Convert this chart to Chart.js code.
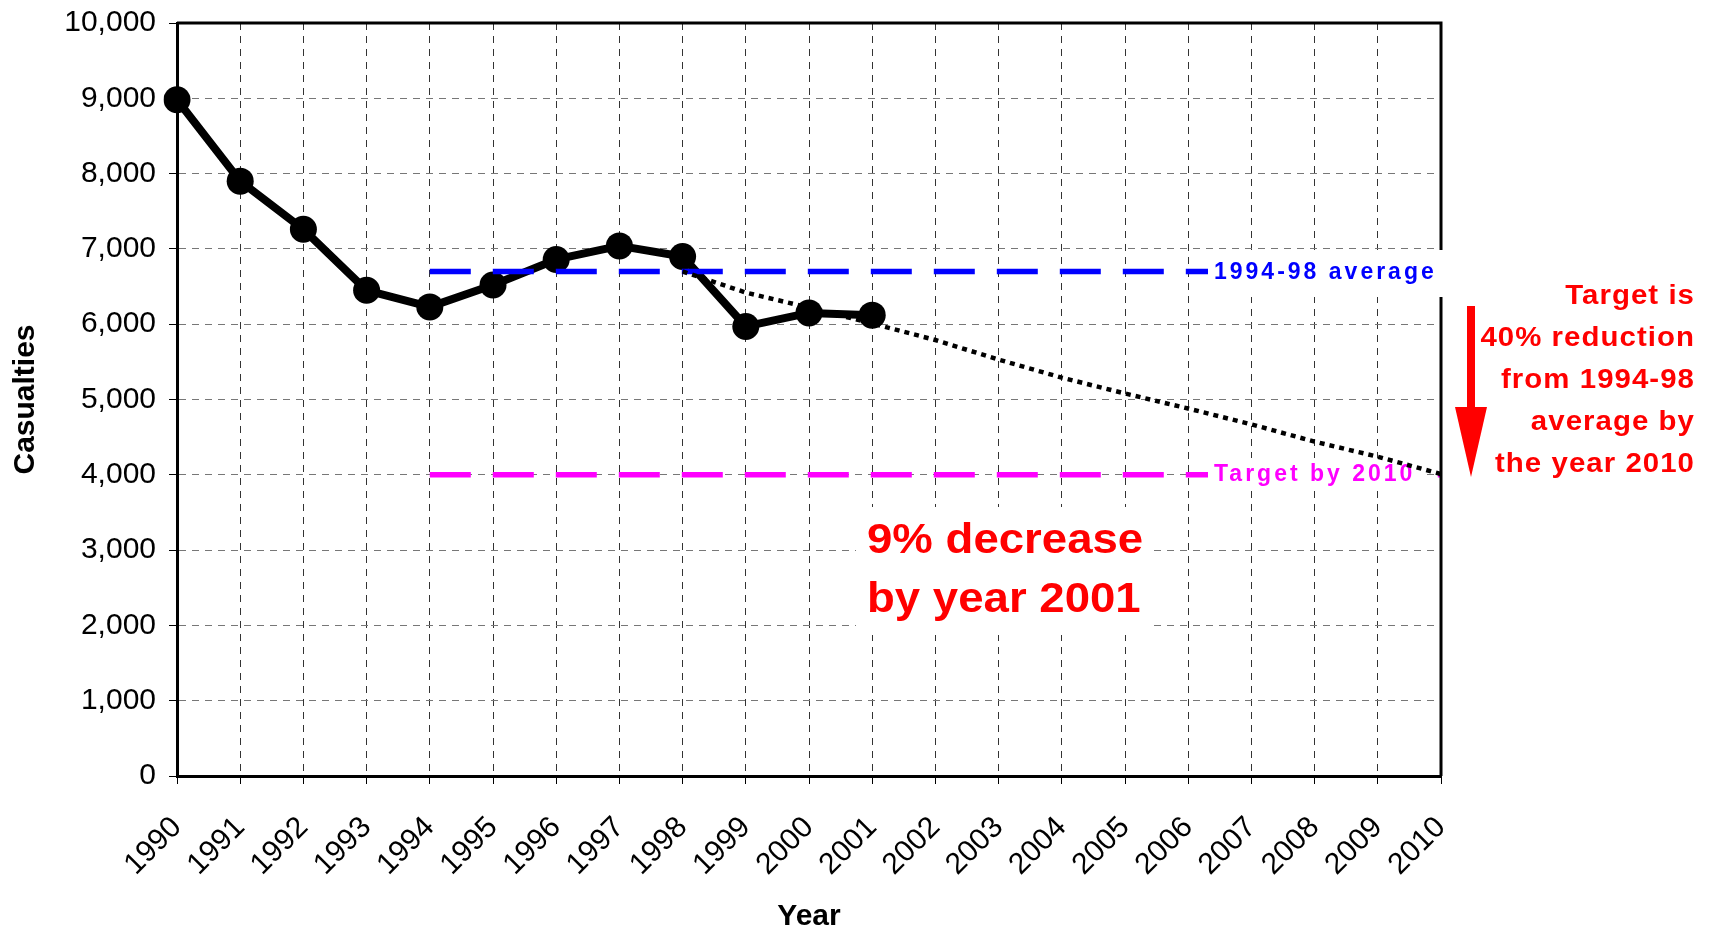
<!DOCTYPE html>
<html>
<head>
<meta charset="utf-8">
<script src="https://cdn.jsdelivr.net/npm/chart.js@4.4.1/dist/chart.umd.min.js"></script>
<style>
  html, body { margin: 0; padding: 0; background: #fff; }
  #wrap { width: 1710px; height: 928px; }
</style>
</head>
<body>
<div id="wrap"><canvas id="chart" width="1710" height="928"></canvas></div>
<script>
// values
const years = ['1990', '1991', '1992', '1993', '1994', '1995', '1996', '1997', '1998', '1999',
	'2000', '2001', '2002', '2003', '2004', '2005', '2006', '2007', '2008', '2009', '2010'];
const casualties = [8980, 7900, 7260, 6450, 6230, 6520, 6860, 7040, 6900, 5970, 6150, 6120];
const avgYears = ['1994', '2010'];
const avgValue = 6700;
const targetYears = ['1994', '2010'];
const targetValue = 4000;
const trendYears = ['1998', '1999', '2000', '2001', '2002', '2003', '2004', '2005', '2006', '2007', '2008', '2009', '2010'];
const trendValues = [6700, 6420, 6220, 6010, 5790, 5530, 5290, 5080, 4880, 4670, 4440, 4240, 4010];
const yTicks = [0, 1000, 2000, 3000, 4000, 5000, 6000, 7000, 8000, 9000, 10000];

const FONT = '"Liberation Sans", Arial, sans-serif';

(function () {
	const toPoints = (xs, ys) => xs.map((x, i) => ({ x: x, y: ys[i] }));
	const spanPoints = (range, v) => {
		const a = years.indexOf(range[0]), b = years.indexOf(range[1]);
		return years.slice(a, b + 1).map(y => ({ x: y, y: v }));
	};

	// text in the original is a little wider than Arial, so allow a horizontal stretch
	const drawText = (ctx, txt, x, y, opts) => {
		ctx.save();
		ctx.translate(x, y);
		ctx.scale(opts.sx || 1, 1);
		ctx.font = opts.font;
		ctx.fillStyle = opts.color;
		ctx.textAlign = opts.align || 'left';
		ctx.textBaseline = 'alphabetic';
		ctx.letterSpacing = (opts.spacing || 0) + 'px';
		ctx.fillText(txt, 0, 0);
		ctx.restore();
	};
	const whiteBox = (ctx, x, y, w, h) => {
		ctx.save();
		ctx.fillStyle = '#fff';
		ctx.fillRect(x, y, w, h);
		ctx.restore();
	};

	const annot = {
		id: 'annot',
		afterDatasetDraw(chart, args) {
			// target label sits on a white box, under the dotted trend
			if (args.index !== 2) {return;}
			const ctx = chart.ctx;
			whiteBox(ctx, 1208, 458, 217, 32);
			drawText(ctx, 'Target by 2010', 1214, 481, { font: 'bold 23px ' + FONT, color: '#ff00ff', spacing: 3 });
		},
		afterDraw(chart) {
			const ctx = chart.ctx;
			const a = chart.chartArea;
			ctx.save();
			ctx.strokeStyle = '#000';
			ctx.lineWidth = 3;
			ctx.beginPath();
			ctx.moveTo(a.left, a.top);
			ctx.lineTo(a.right, a.top);
			ctx.lineTo(a.right, a.bottom);
			ctx.stroke();
			ctx.restore();

			// average label box covers the line end and the right axis
			whiteBox(ctx, 1208, 250, 238, 47);
			drawText(ctx, '1994-98 average', 1214, 279, { font: 'bold 23px ' + FONT, color: '#0000ff', spacing: 3 });

			whiteBox(ctx, 856, 507, 296, 128);
			drawText(ctx, '9% decrease', 867, 553, { font: 'bold 43px ' + FONT, color: '#ff0000', sx: 1.06 });
			drawText(ctx, 'by year 2001', 867, 612, { font: 'bold 43px ' + FONT, color: '#ff0000', sx: 1.06 });

			const lines = ['Target is', '40% reduction', 'from 1994-98', 'average by', 'the year 2010'];
			lines.forEach((l, i) => {
				drawText(ctx, l, 1695, 304 + i * 42, { font: 'bold 28px ' + FONT, color: '#ff0000', align: 'right', spacing: 1, sx: 1.05 });
			});

			// red arrow
			ctx.save();
			ctx.fillStyle = '#ff0000';
			ctx.fillRect(1467, 306, 8, 104);
			ctx.beginPath();
			ctx.moveTo(1455, 407);
			ctx.lineTo(1487, 407);
			ctx.lineTo(1471, 477);
			ctx.closePath();
			ctx.fill();
			ctx.restore();
		}
	};

	new Chart(document.getElementById('chart'), {
		type: 'line',
		data: {
			labels: years,
			datasets: [
				{
					label: 'Casualties', data: toPoints(years.slice(0, casualties.length), casualties),
					borderColor: '#000', backgroundColor: '#000', borderWidth: 8,
					pointRadius: 13.5, pointBorderWidth: 0, pointBackgroundColor: '#000',
					borderJoinStyle: 'round', borderCapStyle: 'round', order: 4
				},
				{
					label: '1994-98 average', data: spanPoints(avgYears, avgValue),
					borderColor: '#0000ff', borderWidth: 5.5, borderDash: [41, 22], pointRadius: 0, order: 3
				},
				{
					label: 'Target by 2010', data: spanPoints(targetYears, targetValue),
					borderColor: '#ff00ff', borderWidth: 5.5, borderDash: [41, 22], pointRadius: 0, order: 2
				},
				{
					label: 'Trend', data: toPoints(trendYears, trendValues),
					borderColor: '#000', borderWidth: 4.5, borderDash: [5, 5], pointRadius: 0, order: 0
				}
			]
		},
		options: {
			responsive: false, animation: false, devicePixelRatio: 1,
			layout: { padding: { top: 23, right: 269, left: 0, bottom: 0 } },
			plugins: { legend: { display: false }, tooltip: { enabled: false } },
			scales: {
				x: {
					type: 'category', offset: false,
					grid: { color: '#333', lineWidth: 1, tickLength: 8, tickColor: '#000' },
					border: { display: true, color: '#000', width: 3, dash: [7, 6] },
					ticks: { color: '#000', font: { family: FONT, size: 30 }, minRotation: 45, maxRotation: 45, autoSkip: false, padding: 26 },
					title: { display: true, text: 'Year', color: '#000', font: { family: FONT, size: 30, weight: 'bold' }, padding: { top: 0, bottom: -7 } },
					afterFit(s) { s.height = 152; s.paddingLeft = 0; s.paddingRight = 0; }
				},
				y: {
					min: 0, max: 10000,
					afterBuildTicks(s) { s.ticks = yTicks.map(v => ({ value: v })); },
					grid: { color: '#777', lineWidth: 1, tickLength: 8, tickColor: '#000' },
					border: { display: true, color: '#000', width: 3, dash: [7, 6] },
					ticks: { color: '#000', font: { family: FONT, size: 30 }, padding: 13, callback: v => v.toLocaleString('en-US') },
					title: { display: true, text: 'Casualties', color: '#000', font: { family: FONT, size: 30, weight: 'bold' }, padding: { top: 8, bottom: 4 } },
					afterFit(s) { s.width = 177; s.paddingTop = 0; s.paddingBottom = 0; }
				}
			}
		},
		plugins: [annot]
	});
})();
</script>
</body>
</html>
